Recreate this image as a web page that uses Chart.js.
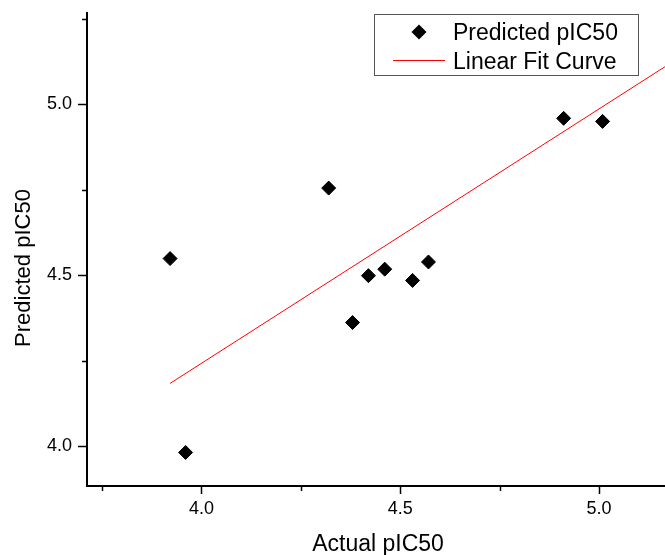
<!DOCTYPE html>
<html>
<head>
<meta charset="utf-8">
<script src="https://cdn.jsdelivr.net/npm/chart.js@4.4.0/dist/chart.umd.min.js"></script>
<style>
  html, body { margin: 0; padding: 0; background: #fff; }
  #wrap { width: 665px; height: 555px; position: relative; }
</style>
</head>
<body>
<div id="wrap"><canvas id="c" width="665" height="555"></canvas></div>
<script>
// ---- data ----
const actual    = [3.921, 3.960, 4.320, 4.380, 4.420, 4.461, 4.531, 4.571, 4.911, 5.009];
const predicted = [4.549, 3.982, 4.755, 4.362, 4.499, 4.518, 4.485, 4.539, 4.959, 4.950];
const fitX = [3.921, 5.17];
const fitY = [4.184, 5.113];

const xMajorTicks = [4.0, 4.5, 5.0];
const xMinorTicks = [3.75, 4.25, 4.75];
const yMajorTicks = [4.0, 4.5, 5.0];
const yMinorTicks = [4.25, 4.75, 5.25];

const xRange = [3.712, 5.166];
const yRange = [3.884, 5.267];

const seriesLabels = ['Predicted pIC50', 'Linear Fit Curve'];
const xTitle = 'Actual pIC50';
const yTitle = 'Predicted pIC50';

const FONT = '"Liberation Sans", Arial, Helvetica, sans-serif';

const scatterPts = actual.map((x, i) => ({ x: x, y: predicted[i] }));
const fitPts = fitX.map((x, i) => ({ x: x, y: fitY[i] }));

const extrasPlugin = {
  id: 'extras',
  afterDraw(chart) {
    const ctx = chart.ctx;
    const xs = chart.scales.x, ys = chart.scales.y;
    const ca = chart.chartArea;
    ctx.save();
    // minor ticks
    ctx.strokeStyle = '#000';
    ctx.lineWidth = 1.5;
    xMinorTicks.forEach(v => {
      const px = Math.round(xs.getPixelForValue(v)) + 0.5;
      ctx.beginPath(); ctx.moveTo(px, ca.bottom); ctx.lineTo(px, ca.bottom + 5); ctx.stroke();
    });
    yMinorTicks.forEach(v => {
      const py = Math.round(ys.getPixelForValue(v)) + 0.5;
      ctx.beginPath(); ctx.moveTo(ca.left - 5, py); ctx.lineTo(ca.left, py); ctx.stroke();
    });
    // axis titles
    ctx.fillStyle = '#000';
    ctx.font = '23px ' + FONT;
    ctx.textAlign = 'center';
    ctx.textBaseline = 'alphabetic';
    ctx.fillText(xTitle, 378, 551);
    ctx.save();
    ctx.font = '22px ' + FONT;
    ctx.translate(29.5, 268);
    ctx.rotate(-Math.PI / 2);
    ctx.fillText(yTitle, 0, 0);
    ctx.restore();
    // legend
    ctx.strokeStyle = '#555';
    ctx.lineWidth = 1;
    ctx.strokeRect(374.5, 14.5, 264, 61);
    // diamond marker
    const mx = 419, my = 32, r = 7.5;
    ctx.fillStyle = '#000';
    ctx.beginPath();
    ctx.moveTo(mx, my - r); ctx.lineTo(mx + r, my); ctx.lineTo(mx, my + r); ctx.lineTo(mx - r, my);
    ctx.closePath(); ctx.fill();
    // line sample
    ctx.strokeStyle = '#ff0000';
    ctx.lineWidth = 1;
    ctx.beginPath(); ctx.moveTo(393, 60.5); ctx.lineTo(445, 60.5); ctx.stroke();
    ctx.fillStyle = '#000';
    ctx.font = '23px ' + FONT;
    ctx.textAlign = 'left';
    ctx.fillText(seriesLabels[0], 453, 39.5);
    ctx.fillText(seriesLabels[1], 453, 68.5);
    ctx.restore();
  }
};

new Chart(document.getElementById('c'), {
  type: 'scatter',
  data: {
    datasets: [
      {
        label: seriesLabels[0],
        data: scatterPts,
        pointStyle: 'rectRot',
        pointRadius: 7,
        pointHoverRadius: 7,
        backgroundColor: '#000',
        borderColor: '#000',
        borderWidth: 1,
        order: 1
      },
      {
        label: seriesLabels[1],
        type: 'line',
        data: fitPts,
        showLine: true,
        pointRadius: 0,
        borderColor: '#ff0000',
        borderWidth: 1,
        fill: false,
        tension: 0,
        order: 2
      }
    ]
  },
  options: {
    responsive: false,
    animation: false,
    layout: { autoPadding: false, padding: { top: 13, right: 0, left: 0, bottom: 0 } },
    plugins: {
      legend: { display: false },
      tooltip: { enabled: false },
      title: { display: false }
    },
    scales: {
      x: {
        type: 'linear',
        min: xRange[0],
        max: xRange[1],
        afterBuildTicks(scale) { scale.ticks = xMajorTicks.map(v => ({ value: v })); },
        afterFit(scale) { scale.height = 69; scale.paddingLeft = 0; scale.paddingRight = 0; },
        grid: { display: true, drawOnChartArea: false, drawTicks: true, tickLength: 8, tickColor: '#000', tickWidth: 1.5 },
        border: { display: true, color: '#000', width: 2 },
        ticks: {
          color: '#000',
          font: { family: FONT, size: 18 },
          padding: 4,
          maxRotation: 0,
          autoSkip: false,
          callback: v => Number(v).toFixed(1)
        },
        title: { display: false }
      },
      y: {
        type: 'linear',
        min: yRange[0],
        max: yRange[1],
        afterBuildTicks(scale) { scale.ticks = yMajorTicks.map(v => ({ value: v })); },
        afterFit(scale) { scale.width = 87; scale.paddingTop = 0; scale.paddingBottom = 0; },
        grid: { display: true, drawOnChartArea: false, drawTicks: true, tickLength: 9, tickColor: '#000', tickWidth: 1.5 },
        border: { display: true, color: '#000', width: 2 },
        ticks: {
          color: '#000',
          font: { family: FONT, size: 18 },
          padding: 6,
          autoSkip: false,
          callback: v => Number(v).toFixed(1)
        },
        title: { display: false }
      }
    }
  },
  plugins: [extrasPlugin]
});
</script>
</body>
</html>
